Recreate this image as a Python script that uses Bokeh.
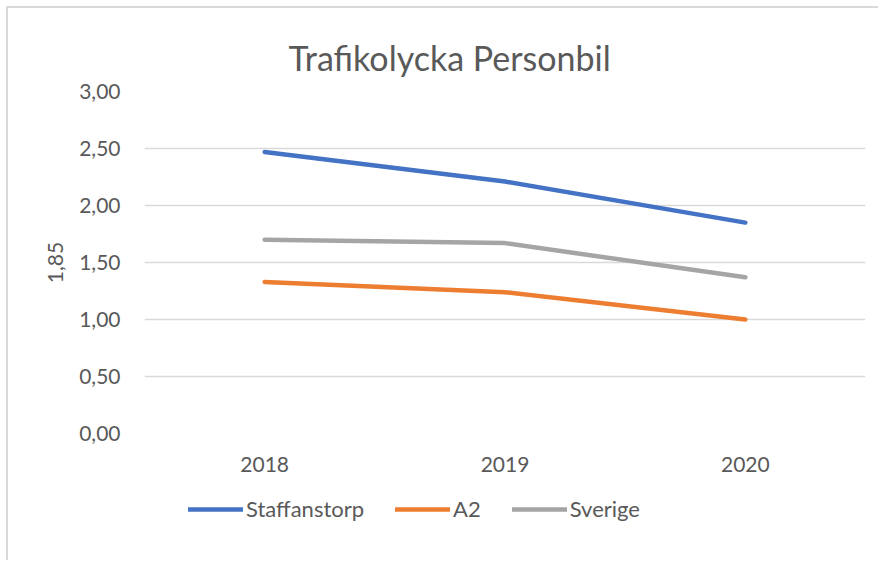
from bokeh.plotting import figure
from bokeh.layouts import column
from bokeh.models import Range1d, FactorRange, Legend, LegendItem, FixedTicker, Title
from bokeh.embed import file_html
from bokeh.resources import INLINE

years = ["2018", "2019", "2020"]
staffanstorp = [2.47, 2.21, 1.85]
a2 = [1.33, 1.24, 1.00]
sverige = [1.70, 1.67, 1.37]
y_ticks = [0.0, 0.5, 1.0, 1.5, 2.0, 2.5, 3.0]
y_tick_labels = ["0,00", "0,50", "1,00", "1,50", "2,00", "2,50", "3,00"]
series_names = ["Staffanstorp", "A2", "Sverige"]
series_colors = ["#4472C4", "#ED7D31", "#A5A5A5"]
series_values = [staffanstorp, a2, sverige]

FONT = "Lato"
TXT = "#595959"

p = figure(width=870, height=480, output_backend="svg", toolbar_location=None,
           x_range=FactorRange(*years, range_padding=0), y_range=Range1d(0, 3),
           min_border_left=136, min_border_right=13, min_border_top=83, min_border_bottom=55)
p.outline_line_color = None
p.background_fill_color = "white"
p.border_fill_color = "white"

t = Title(text="Trafikolycka Personbil", align="left", offset=144,
          text_font=FONT, text_font_size="34px", text_font_style="normal",
          text_color=TXT, standoff=28)
p.add_layout(t, "above")

for vals, col in zip(series_values, series_colors):
    p.line(years, vals, line_color=col, line_width=4.5,
           line_cap="round", line_join="round")

# axes
p.xgrid.grid_line_color = None
p.ygrid.grid_line_color = "#d9d9d9"
p.ygrid.grid_line_width = 1.3
p.yaxis.ticker = FixedTicker(ticks=y_ticks)
p.yaxis.major_label_overrides = {v: l for v, l in zip(y_ticks, y_tick_labels)}
for ax in (p.xaxis[0], p.yaxis[0]):
    ax.axis_line_color = None
    ax.major_tick_line_color = None
    ax.minor_tick_line_color = None
    ax.major_label_text_font = FONT
    ax.major_label_text_font_size = "21px"
    ax.major_label_text_color = TXT
p.yaxis.major_label_standoff = 18
p.xaxis.major_label_standoff = 17
p.yaxis.axis_label = "1,85"
p.yaxis.axis_label_text_font = FONT
p.yaxis.axis_label_text_font_size = "21px"
p.yaxis.axis_label_text_font_style = "normal"
p.yaxis.axis_label_text_color = TXT
p.yaxis.axis_label_standoff = 13

# legend strip (lines drawn outside its visible range, only legend shows)
lg = figure(width=870, height=72, output_backend="svg", toolbar_location=None,
            x_range=FactorRange(*years, range_padding=0), y_range=Range1d(10, 11),
            x_axis_location=None, y_axis_location=None,
            min_border_left=0, min_border_right=0, min_border_top=0, min_border_bottom=0)
lg.outline_line_color = None
lg.grid.grid_line_color = None
lg.background_fill_color = "white"
lg.border_fill_color = "white"
leg_renderers = []
for vals, col in zip(series_values, series_colors):
    r = lg.line(years, vals, line_color=col, line_width=4.5, line_cap="round")
    leg_renderers.append(r)

legend = Legend(items=[LegendItem(label=n, renderers=[r]) for n, r in zip(series_names, leg_renderers)],
                orientation="horizontal", location=(44, 38),
                label_text_font=FONT, label_text_font_size="22px", label_text_color=TXT,
                glyph_width=55, glyph_height=26, label_height=26, label_standoff=3, spacing=31,
                padding=0, margin=0, border_line_color=None, background_fill_alpha=0)
lg.add_layout(legend, "center")

layout = column(p, lg, spacing=0)
layout.styles = {"border-left": "2px solid #d9d9d9", "border-top": "2px solid #d9d9d9",
                 "margin-left": "6px", "margin-top": "6px"}

open("out.html", "w").write(file_html(layout, INLINE))
